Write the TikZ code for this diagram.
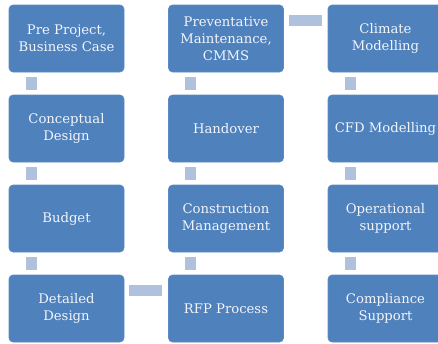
\documentclass[tikz,border=0pt]{standalone}
\usepackage{fontspec}
\setmainfont{DejaVu Serif}
\usetikzlibrary{calc}
\definecolor{boxblue}{HTML}{4F81BD}
\definecolor{boxedge}{HTML}{5A8AC4}
\definecolor{linkblue}{HTML}{B0C1DE}
\definecolor{textwhite}{HTML}{F2F5FA}
\tikzset{stage/.style={rectangle,rounded corners=4pt,fill=boxblue,draw=boxedge,line width=0.6pt,minimum width=115pt,minimum height=67pt,inner sep=0pt,text=textwhite,align=center,font=\fontsize{13.2}{17}\selectfont}}
\tikzset{link/.style={linkblue,line width=11pt}}
\begin{document}
\begin{tikzpicture}[x=1pt,y=1pt]
\useasboundingbox (0,0) rectangle (438,-343);
% draw stages
\def\ca{66.5}
\def\cb{226}
\def\cc{385.5}
\node[stage] (pre) at (\ca,-38.5) {Pre Project,\\Business Case};
\node[stage] (concept) at (\ca,-128.5) {Conceptual\\Design};
\node[stage] (budget) at (\ca,-218.5) {Budget};
\node[stage] (detail) at (\ca,-308.5) {Detailed\\Design};
\node[stage] (rfp) at (\cb,-308.5) {RFP Process};
\node[stage] (constr) at (\cb,-218.5) {Construction\\Management};
\node[stage] (handover) at (\cb,-128.5) {Handover};
\node[stage] (maint) at (\cb,-38.5) {Preventative\\Maintenance,\\CMMS};
\node[stage] (climate) at (\cc,-38.5) {Climate\\Modelling};
\node[stage] (cfd) at (\cc,-128.5) {CFD Modelling};
\node[stage] (oper) at (\cc,-218.5) {Operational\\support};
\node[stage] (compl) at (\cc,-308.5) {Compliance\\Support};
% draw vertical links
\foreach \a/\b in {pre/concept,concept/budget,budget/detail,constr/rfp,handover/constr,maint/handover,climate/cfd,cfd/oper,oper/compl}
  \draw[link] ($(\a.south west)+(22.5,-5)$) -- ($(\b.north west)+(22.5,5)$);
% draw horizontal links
\draw[link] ($(detail.north east)+(5,-15.5)$) -- ($(rfp.north west)+(-6,-15.5)$);
\draw[link] ($(maint.north east)+(5,-15.5)$) -- ($(climate.north west)+(-6,-15.5)$);
\end{tikzpicture}
\end{document}
